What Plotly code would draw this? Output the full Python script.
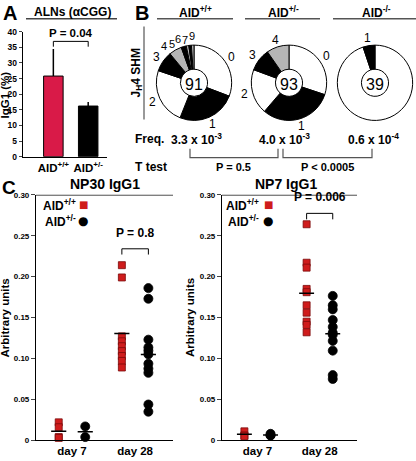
import plotly.graph_objects as go
import numpy as np

W, H = 416, 461
def px(x): return x / W
def py(y): return 1 - y / H

FONT = "Liberation Sans, Arial, Helvetica, sans-serif"
RED_BAR = "#d91a48"
RED_SQ = "#cf1c1c"
GRAY = "#b5b5b5"

# ---------------- Panel A data ----------------
a_title = "ALNs (αCGG)"
a_groups = ["AID<sup>+/+</sup>", "AID<sup>+/-</sup>"]
a_igg1 = [25.8, 16.2]
a_err_up = [8.7, 1.3]
a_pval = "P = 0.04"
a_yticks = [0, 5, 10, 15, 20, 25, 30, 35, 40]

# ---------------- Panel B data ----------------
b_titles = ["AID<sup>+/+</sup>", "AID<sup>+/-</sup>", "AID<sup>-/-</sup>"]
b1_bins = ["0", "1", "2", "3", "4", "5", "6", "7", "9"]
b1_counts = [28, 23, 22, 8, 5, 2, 1, 1, 1]
b2_bins = ["0", "1", "2", "3", "4"]
b2_counts = [28, 29, 18, 9, 9]
b3_bins = ["0", "1"]
b3_counts = [37, 2]
b3_shown = ["1"]
b_freq = ["3.3 x 10<sup>-3</sup>", "4.0 x 10<sup>-3</sup>", "0.6 x 10<sup>-4</sup>"]
b_ttest = ["P = 0.5", "P < 0.0005"]

# ---------------- Panel C data ----------------
c_days = ["day 7", "day 28"]
c_yticks = [0, 0.05, 0.10, 0.15, 0.20, 0.25, 0.30]
c_yticktext = ["0", "0.05", "0.10", "0.15", "0.20", "0.25", "0.30"]
np30_wt = [[0.022, 0.016, 0.004, 0.003],
           [0.214, 0.199, 0.127, 0.121, 0.115, 0.109, 0.103, 0.097, 0.089]]
np30_het = [[0.017, 0.004],
            [0.186, 0.173, 0.123, 0.1135, 0.1096, 0.105, 0.0936, 0.0876, 0.0825, 0.0438, 0.035]]
np7_wt = [[0.011, 0.006, 0.005],
          [0.264, 0.217, 0.211, 0.185, 0.181, 0.165, 0.156, 0.145, 0.141, 0.132]]
np7_het = [[0.008, 0.006, 0.006],
           [0.1765, 0.165, 0.160, 0.147, 0.1386, 0.1315, 0.129, 0.1215, 0.1096, 0.0797, 0.075]]
c_pvals = ["P = 0.8", "P = 0.006"]

fig = go.Figure()
ann = []
shapes = []

def A(text, x, y, size=12, bold=True, xanchor="center", yanchor="middle", angle=0, color="black", family=FONT):
    ann.append(dict(text=text, x=px(x), y=py(y), xref="paper", yref="paper",
                    showarrow=False, xanchor=xanchor, yanchor=yanchor, textangle=angle,
                    font=dict(family=family, size=size, color=color,
                              weight="bold" if bold else "normal")))

def L(pts, color="black", width=1):
    path = "M " + " L ".join(f"{px(x)},{py(y)}" for x, y in pts)
    shapes.append(dict(type="path", path=path, xref="paper", yref="paper",
                       line=dict(color=color, width=width)))

# ---------------- Panel A ----------------
fig.add_trace(go.Bar(x=[1, 2], y=a_igg1, width=0.56,
                     marker=dict(color=[RED_BAR, "black"], line=dict(color="black", width=1)),
                     error_y=dict(type="data", symmetric=False, array=a_err_up, arrayminus=[0, 0],
                                  color="black", thickness=1.5, width=0),
                     xaxis="x", yaxis="y", showlegend=False))
shapes.append(dict(type="path", xref="x", yref="y",
                   path=f"M 1,35.2 L 1,36.9 L 2,36.9 L 2,35.2",
                   line=dict(color="black", width=1)))
A(a_pval, 70.5, 29, size=11.5)
A(a_title, 72, 7, size=12)
L([(26, 14), (117, 14)], color="#444", width=1.5)
A("A", 1, 8, size=20, xanchor="left")
A("IgG1 (%)", 5.5, 92, size=11.5, angle=-90)

# ---------------- Panel B ----------------
R = 38.5
centers = [(194, 79.5), (289, 79.5), (375, 79.5)]
pies = [(b1_bins, b1_counts, b1_bins), (b2_bins, b2_counts, b2_bins), (b3_bins, b3_counts, b3_shown)]

def slice_colors(bins):
    out = []
    for i, b in enumerate(bins):
        if i < 4:
            out.append("white" if i % 2 == 0 else "black")
        else:
            out.append(GRAY if i % 2 == 0 else "black")
    return out

def label_angles(counts, min_sep=9.0):
    tot = float(sum(counts))
    cum = np.concatenate([[0], np.cumsum(counts)])
    ang = [(cum[i] + cum[i + 1]) / 2 / tot * 360 for i in range(len(counts))]
    moved = [False] * len(ang)
    for i in range(len(ang) - 2, -1, -1):
        if ang[i + 1] - ang[i] < min_sep:
            ang[i] = ang[i + 1] - min_sep
            moved[i] = True
            moved[i + 1] = True
    return ang, moved

for (cx, cy), (bins, counts, shown), title in zip(centers, pies, b_titles):
    fig.add_trace(go.Pie(values=counts, labels=bins, sort=False, direction="clockwise",
                         rotation=0, hole=0.36, textinfo="none", hoverinfo="label+value",
                         marker=dict(colors=slice_colors(bins), line=dict(color="black", width=1)),
                         domain=dict(x=[px(cx - R), px(cx + R)], y=[py(cy + R), py(cy - R)]),
                         title=dict(text=str(sum(counts)), position="middle center",
                                    font=dict(family=FONT, size=16, color="black")),
                         showlegend=False))
    angs, moved = label_angles(counts)
    k = 0
    for b, a, mv in zip(bins, angs, moved):
        if b not in shown:
            continue
        d = R + 7.5
        size = 12
        if mv:
            size = 11
            d = R + (9.5 if k % 2 == 0 else 6.5)
            k += 1
        t = np.deg2rad(a)
        A(b, cx + d * np.sin(t), cy - d * np.cos(t), size=size, bold=False)

title_x = [195, 283, 376]
line_x = [(157, 233), (245, 320), (333, 416)]
for t, x, (x0, x1) in zip(b_titles, title_x, line_x):
    A(t, x, 7, size=12)
    L([(x0, 14), (x1, 14)], color="#555", width=1.5)
A("B", 133, 8, size=20, xanchor="left")
A("J<sub>H</sub>4 SHM", 137, 70, size=12, angle=-90)
L([(144, 22), (144, 117)], color="#777", width=1.5)

A("Freq.", 133, 137, size=12, xanchor="left")
for t, x in zip(b_freq, [196, 284, 373]):
    A(t, x, 137, size=12)
L([(190, 147), (190, 156), (278, 156), (278, 147)], color="#555", width=1.2)
L([(283, 147), (283, 156), (372, 156), (372, 147)], color="#555", width=1.2)
A("T test", 133, 166, size=12, xanchor="left")
for t, x in zip(b_ttest, [233, 327]):
    A(t, x, 166, size=11)

# ---------------- Panel C ----------------
OFF = 0.21
HALF = 0.12
def scatter_panel(wt, het, xa, ya):
    for grp, sym, color, lc, size, off in [(wt, "square", RED_SQ, "#7a0a0a", 7, -OFF),
                                           (het, "circle", "black", "black", 9, OFF)]:
        xs, ys = [], []
        for di, vals in enumerate(grp):
            xs += [di + 1 + off] * len(vals)
            ys += vals
        fig.add_trace(go.Scatter(x=xs, y=ys, mode="markers", cliponaxis=False,
                                 marker=dict(symbol=sym, color=color, size=size,
                                             line=dict(color=lc, width=0.8)),
                                 xaxis=xa, yaxis=ya, showlegend=False))
    mx, my = [], []
    for grp, off in [(wt, -OFF), (het, OFF)]:
        for di, vals in enumerate(grp):
            m = float(np.mean(vals))
            xc = di + 1 + off
            mx += [xc - HALF, xc + HALF, None]
            my += [m, m, None]
    fig.add_trace(go.Scatter(x=mx, y=my, mode="lines", line=dict(color="black", width=1.5),
                             cliponaxis=False, xaxis=xa, yaxis=ya, showlegend=False,
                             hoverinfo="skip"))

scatter_panel(np30_wt, np30_het, "x2", "y2")
scatter_panel(np7_wt, np7_het, "x3", "y3")

for xa, ya, p, (ty, by) in [("x2", "y2", c_pvals[0], (0.234, 0.227)),
                            ("x3", "y3", c_pvals[1], (0.2773, 0.270))]:
    shapes.append(dict(type="path", xref=xa, yref=ya,
                       path=f"M {2-OFF},{by} L {2-OFF},{ty} L {2+OFF},{ty} L {2+OFF},{by}",
                       line=dict(color="black", width=1)))
    shapes.append(dict(type="line", xref=f"{xa} domain", yref=ya, x0=0, x1=1, y0=0.30, y1=0.30,
                       line=dict(color="black", width=1.2)))
    ann.append(dict(text=p, x=2, y=ty + 0.0085, xref=xa, yref=ya, showarrow=False,
                    yanchor="bottom", font=dict(family=FONT, size=12, weight="bold")))

A("C", 0, 187, size=19, xanchor="left")
A("NP30 IgG1", 105, 183, size=14)
A("NP7 IgG1", 286, 183, size=14)
A("Arbitrary units", 5.5, 320, size=11.5, angle=-90)
A("Arbitrary units", 190, 320, size=11.5, angle=-90)

for tx, sx in [(78, 83), (261, 268)]:
    A("AID<sup>+/+</sup>", tx, 204, size=12, xanchor="right")
    A("AID<sup>+/-</sup>", tx, 221, size=12, xanchor="right")
    A("■", sx, 204, size=10, bold=False, color=RED_SQ, family="DejaVu Sans")
    A("●", sx, 221, size=12, bold=False, color="black", family="DejaVu Sans")

# ---------------- Layout ----------------
ax_common = dict(showgrid=False, zeroline=False, showline=True, linecolor="black", linewidth=1.2)
tickf = dict(family=FONT, size=8, color="black", weight="bold")
fig.update_layout(
    width=W, height=H, margin=dict(l=0, r=0, t=0, b=0),
    paper_bgcolor="white", plot_bgcolor="white",
    font=dict(family=FONT, color="black"),
    xaxis=dict(domain=[px(22.7), px(107)], range=[0.12, 2.54], tickvals=[1, 2], ticktext=a_groups,
               ticks="", anchor="y", tickfont=dict(family=FONT, size=11.5, weight="bold"),
               **ax_common),
    yaxis=dict(domain=[py(155), py(27.3)], range=[0, 40], tickvals=a_yticks, ticks="outside",
               ticklen=3, anchor="x", tickfont=dict(family=FONT, size=8.5, weight="bold"),
               **ax_common),
    xaxis2=dict(domain=[px(36), px(173)], range=[0.43, 2.6], tickvals=[1, 2], ticktext=c_days,
                ticks="", anchor="y2", tickfont=dict(family=FONT, size=11.5, weight="bold"),
                **ax_common),
    yaxis2=dict(domain=[py(445), py(194)], range=[0, 0.30], tickvals=c_yticks, ticktext=c_yticktext,
                ticks="outside", ticklen=4, anchor="x2", tickfont=tickf, **ax_common),
    xaxis3=dict(domain=[px(222), px(357)], range=[0.43, 2.6], tickvals=[1, 2], ticktext=c_days,
                ticks="", anchor="y3", tickfont=dict(family=FONT, size=11.5, weight="bold"),
                **ax_common),
    yaxis3=dict(domain=[py(445), py(194)], range=[0, 0.30], tickvals=c_yticks, ticktext=c_yticktext,
                ticks="outside", ticklen=4, anchor="x3", tickfont=tickf, **ax_common),
    annotations=ann, shapes=shapes,
)

fig.write_html("out.html", config={"displayModeBar": False},
               post_script="document.body.style.margin='0';document.body.style.overflow='hidden';")
